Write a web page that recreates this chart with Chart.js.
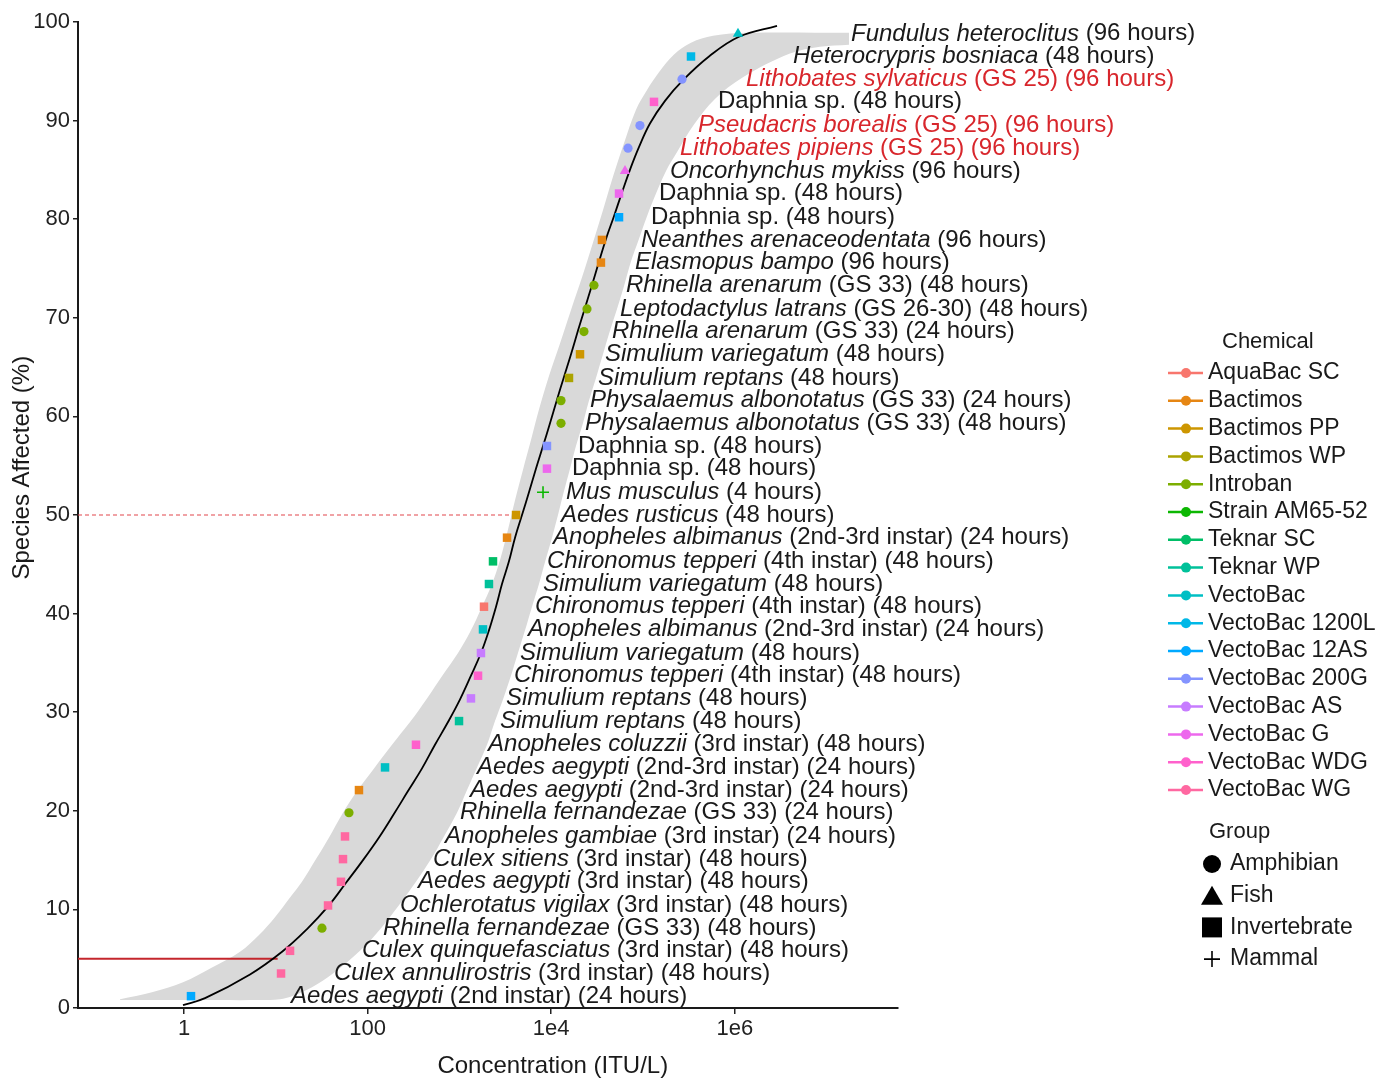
<!DOCTYPE html>
<html>
<head>
<meta charset="utf-8">
<title>Species sensitivity distribution</title>
<script src="https://cdn.jsdelivr.net/npm/chart.js@4/dist/chart.umd.min.js"></script>
<style>
  html, body { margin: 0; padding: 0; background: #fff; }
  canvas { display: block; }
</style>
</head>
<body>
<canvas id="ssdChart" width="1383" height="1078"></canvas>
<script>
// ---- data (ordered from lowest to highest species affected) ----
const speciesName = [
  'Aedes aegypti', 'Culex annulirostris', 'Culex quinquefasciatus', 'Rhinella fernandezae',
  'Ochlerotatus vigilax', 'Aedes aegypti', 'Culex sitiens', 'Anopheles gambiae',
  'Rhinella fernandezae', 'Aedes aegypti', 'Aedes aegypti', 'Anopheles coluzzii',
  'Simulium reptans', 'Simulium reptans', 'Chironomus tepperi', 'Simulium variegatum',
  'Anopheles albimanus', 'Chironomus tepperi', 'Simulium variegatum', 'Chironomus tepperi',
  'Anopheles albimanus', 'Aedes rusticus', 'Mus musculus', 'Daphnia sp.',
  'Daphnia sp.', 'Physalaemus albonotatus', 'Physalaemus albonotatus', 'Simulium reptans',
  'Simulium variegatum', 'Rhinella arenarum', 'Leptodactylus latrans', 'Rhinella arenarum',
  'Elasmopus bampo', 'Neanthes arenaceodentata', 'Daphnia sp.', 'Daphnia sp.',
  'Oncorhynchus mykiss', 'Lithobates pipiens', 'Pseudacris borealis', 'Daphnia sp.',
  'Lithobates sylvaticus', 'Heterocrypris bosniaca', 'Fundulus heteroclitus'
];
const testDetail = [
  '(2nd instar) (24 hours)', '(3rd instar) (48 hours)', '(3rd instar) (48 hours)', '(GS 33) (48 hours)',
  '(3rd instar) (48 hours)', '(3rd instar) (48 hours)', '(3rd instar) (48 hours)', '(3rd instar) (24 hours)',
  '(GS 33) (24 hours)', '(2nd-3rd instar) (24 hours)', '(2nd-3rd instar) (24 hours)', '(3rd instar) (48 hours)',
  '(48 hours)', '(48 hours)', '(4th instar) (48 hours)', '(48 hours)',
  '(2nd-3rd instar) (24 hours)', '(4th instar) (48 hours)', '(48 hours)', '(4th instar) (48 hours)',
  '(2nd-3rd instar) (24 hours)', '(48 hours)', '(4 hours)', '(48 hours)',
  '(48 hours)', '(GS 33) (48 hours)', '(GS 33) (24 hours)', '(48 hours)',
  '(48 hours)', '(GS 33) (24 hours)', '(GS 26-30) (48 hours)', '(GS 33) (48 hours)',
  '(96 hours)', '(96 hours)', '(48 hours)', '(48 hours)',
  '(96 hours)', '(GS 25) (96 hours)', '(GS 25) (96 hours)', '(48 hours)',
  '(GS 25) (96 hours)', '(48 hours)', '(96 hours)'
];
const chemical = [
  'VectoBac 12AS', 'VectoBac WG', 'VectoBac WG', 'Introban',
  'VectoBac WG', 'VectoBac WG', 'VectoBac WG', 'VectoBac WG',
  'Introban', 'Bactimos', 'VectoBac', 'VectoBac WDG',
  'Teknar WP', 'VectoBac AS', 'VectoBac WDG', 'VectoBac AS',
  'VectoBac', 'AquaBac SC', 'Teknar WP', 'Teknar SC',
  'Bactimos', 'Bactimos PP', 'Strain AM65-52', 'VectoBac G',
  'VectoBac 200G', 'Introban', 'Introban', 'Bactimos WP',
  'Bactimos PP', 'Introban', 'Introban', 'Introban',
  'Bactimos', 'Bactimos', 'VectoBac 12AS', 'VectoBac G',
  'VectoBac G', 'VectoBac 200G', 'VectoBac 200G', 'VectoBac WDG',
  'VectoBac 200G', 'VectoBac 1200L', 'VectoBac'
];
const group = [
  'Invertebrate', 'Invertebrate', 'Invertebrate', 'Amphibian',
  'Invertebrate', 'Invertebrate', 'Invertebrate', 'Invertebrate',
  'Amphibian', 'Invertebrate', 'Invertebrate', 'Invertebrate',
  'Invertebrate', 'Invertebrate', 'Invertebrate', 'Invertebrate',
  'Invertebrate', 'Invertebrate', 'Invertebrate', 'Invertebrate',
  'Invertebrate', 'Invertebrate', 'Mammal', 'Invertebrate',
  'Invertebrate', 'Amphibian', 'Amphibian', 'Invertebrate',
  'Invertebrate', 'Amphibian', 'Amphibian', 'Amphibian',
  'Invertebrate', 'Invertebrate', 'Invertebrate', 'Invertebrate',
  'Fish', 'Amphibian', 'Amphibian', 'Invertebrate',
  'Amphibian', 'Invertebrate', 'Fish'
];
// log10 of concentration (ITU/L)
const log10Conc = [
  0.076, 1.057, 1.155, 1.503, 1.569, 1.710, 1.732, 1.754, 1.797, 1.906,
  2.190, 2.527, 2.996, 3.126, 3.203, 3.235, 3.257, 3.268, 3.322, 3.366,
  3.519, 3.617, 3.911, 3.954, 3.954, 4.107, 4.107, 4.194, 4.314, 4.357,
  4.390, 4.466, 4.542, 4.553, 4.739, 4.739, 4.804, 4.837, 4.967, 5.120,
  5.425, 5.523, 6.035
];
const affected = [
  1.2, 3.5, 5.8, 8.1, 10.4, 12.8, 15.1, 17.4, 19.8, 22.1,
  24.4, 26.7, 29.1, 31.4, 33.7, 36.0, 38.4, 40.7, 43.0, 45.3,
  47.7, 50.0, 52.3, 54.7, 57.0, 59.3, 61.6, 63.9, 66.3, 68.6,
  70.9, 73.3, 75.6, 77.9, 80.2, 82.6, 84.9, 87.2, 89.5, 91.9,
  94.2, 96.5, 98.8
];
// where each text label starts (log10 concentration)
const labelLog10 = [
  1.166, 1.634, 1.939, 2.168, 2.353, 2.549, 2.712, 2.843, 3.007, 3.115,
  3.192, 3.312, 3.442, 3.508, 3.595, 3.660, 3.747, 3.824, 3.911, 3.954,
  4.020, 4.107, 4.161, 4.227, 4.292, 4.368, 4.423, 4.510, 4.586, 4.662,
  4.749, 4.815, 4.913, 4.978, 5.087, 5.174, 5.294, 5.403, 5.599, 5.817,
  6.122, 6.634, 7.266
];
const redSpecies = ['Lithobates sylvaticus', 'Pseudacris borealis', 'Lithobates pipiens'];

// fitted distribution (log10 conc, % affected)
const curveLog10 = [-0.011, 0.229, 0.719, 1.068, 1.340, 1.569, 1.765, 1.950, 2.124, 2.288,
  2.440, 2.593, 2.734, 2.876, 3.007, 3.126, 3.235, 3.322, 3.399, 3.464,
  3.540, 3.606, 3.682, 3.758, 3.834, 3.911, 3.987, 4.063, 4.139, 4.216,
  4.292, 4.368, 4.444, 4.521, 4.597, 4.684, 4.771, 4.858, 4.956, 5.076,
  5.240, 5.436, 5.719, 6.046, 6.460];
const curvePct = [0.3, 1.0, 3.4, 5.7, 8.0, 10.3, 12.7, 15.0, 17.3, 19.7,
  22.0, 24.3, 26.7, 29.0, 31.3, 33.7, 36.0, 38.3, 40.7, 43.0,
  45.3, 47.7, 50.0, 52.3, 54.7, 57.0, 59.3, 61.7, 64.0, 66.3,
  68.7, 71.0, 73.3, 75.7, 78.0, 80.3, 82.7, 85.0, 87.3, 89.7,
  92.0, 94.1, 96.5, 98.5, 99.6];

// confidence band: upper bound (left edge) and lower bound (right edge)
const bandUpperLog10 = [-0.697, -0.349, -0.011, 0.305, 0.610, 0.817, 0.991, 1.155, 1.285, 1.438,
  1.580, 1.732, 1.885, 2.070, 2.266, 2.462, 2.647, 2.821, 2.985, 3.126,
  3.246, 3.355, 3.442, 3.529, 3.606, 3.693, 3.780, 3.867, 3.976, 4.096,
  4.216, 4.336, 4.455, 4.564, 4.673, 4.793, 4.924, 5.044, 5.174, 5.338,
  5.523, 5.763, 6.144, 7.244];
const bandUpperPct = [0.9, 1.6, 2.6, 4.1, 5.7, 7.4, 9.2, 11.2, 12.8, 15.1,
  17.3, 19.8, 22.0, 24.3, 26.7, 29.0, 31.4, 33.8, 36.0, 38.3,
  40.7, 43.0, 45.4, 48.5, 51.5, 54.6, 57.6, 60.7, 64.1, 67.4,
  70.8, 74.1, 77.6, 80.9, 84.3, 87.7, 91.1, 93.1, 94.9, 96.7,
  97.9, 98.6, 98.9, 98.9];
const bandLowerLog10 = [-0.697, 0.174, 0.828, 1.046, 1.176, 1.394, 1.623, 1.917, 2.146, 2.331,
  2.527, 2.691, 2.832, 2.974, 3.083, 3.192, 3.301, 3.388, 3.475, 3.562,
  3.638, 3.715, 3.791, 3.867, 3.932, 4.009, 4.074, 4.139, 4.205, 4.270,
  4.346, 4.412, 4.488, 4.564, 4.641, 4.717, 4.793, 4.869, 4.956, 5.044,
  5.142, 5.251, 5.370, 5.556, 5.784, 6.089, 6.601, 6.928, 7.244];
const bandLowerPct = [0.8, 0.8, 0.8, 0.9, 1.2, 2.1, 3.5, 5.8, 8.1, 10.3,
  12.8, 15.1, 17.4, 19.8, 22.1, 24.4, 26.7, 29.1, 31.3, 33.7,
  36.0, 38.3, 40.7, 43.0, 45.2, 47.7, 50.0, 52.4, 54.7, 57.0,
  59.3, 61.6, 63.9, 66.3, 68.7, 70.9, 73.2, 75.7, 78.0, 80.3,
  82.6, 84.9, 86.8, 89.6, 92.2, 94.4, 96.8, 97.5, 97.7];

// hazard concentrations (log10)
const hc5Log10 = 1.02;
const hc50Log10 = 3.63;

const xTickValues = [1, 100, 1e4, 1e6];
const xTickLabels = ['1', '100', '1e4', '1e6'];
const xMin = 0.07, xMax = 6e7;

const chemicals = ['AquaBac SC', 'Bactimos', 'Bactimos PP', 'Bactimos WP', 'Introban', 'Strain AM65-52',
  'Teknar SC', 'Teknar WP', 'VectoBac', 'VectoBac 1200L', 'VectoBac 12AS', 'VectoBac 200G',
  'VectoBac AS', 'VectoBac G', 'VectoBac WDG', 'VectoBac WG'];
const chemicalColors = ['#F8766D', '#E68613', '#CD9600', '#ABA300', '#7CAE00', '#0CB702',
  '#00BE67', '#00C19A', '#00BFC4', '#00B8E7', '#00A9FF', '#8494FF',
  '#C77CFF', '#ED68ED', '#FF61CC', '#FF68A1'];
const groups = ['Amphibian', 'Fish', 'Invertebrate', 'Mammal'];

// ---- styling ----
const FONT = '"Liberation Sans", Arial, Helvetica, sans-serif';
const TEXT = '#1a1a1a';
const RED = '#d8262c';
const shapeOf = { Amphibian: 'circle', Fish: 'triangle', Invertebrate: 'rect', Mammal: 'cross' };
const radiusOf = { Amphibian: 4.6, Fish: 6, Invertebrate: 6, Mammal: 6 };

Chart.defaults.font.family = FONT;

const pow10 = v => Math.pow(10, v);
const toXY = (xs, ys) => xs.map((v, i) => ({ x: pow10(v), y: ys[i] }));
const colorOf = name => chemicalColors[chemicals.indexOf(name)];

// species labels, italic binomial + plain test details
const labelPlugin = {
  id: 'speciesLabels',
  afterDatasetsDraw(chart) {
    const { ctx } = chart;
    const xs = chart.scales.x, ys = chart.scales.y;
    const italic = `italic 24px ${FONT}`, plain = `24px ${FONT}`;
    ctx.save();
    ctx.textBaseline = 'middle';
    speciesName.forEach((name, i) => {
      const upright = name.endsWith(' sp.');
      const first = upright ? name + ' ' + testDetail[i] : name;
      const rest = upright ? '' : ' ' + testDetail[i];
      const px = xs.getPixelForValue(pow10(labelLog10[i]));
      const py = ys.getPixelForValue(affected[i]);
      ctx.fillStyle = redSpecies.includes(name) ? RED : TEXT;
      ctx.font = upright ? plain : italic;
      ctx.fillText(first, px, py);
      const w1 = ctx.measureText(first).width;
      ctx.font = plain;
      ctx.fillText(rest, px + w1, py);
    });
    ctx.restore();
  }
};

const titlePlugin = {
  id: 'axisTitles',
  afterDraw(chart) {
    const { ctx, chartArea: a } = chart;
    ctx.save();
    ctx.fillStyle = TEXT;
    ctx.font = `24px ${FONT}`;
    ctx.textAlign = 'center';
    ctx.textBaseline = 'middle';
    ctx.fillText('Concentration (ITU/L)', a.left + (a.right - a.left) * 0.579, chart.height - 12);
    ctx.translate(22, a.top + (a.bottom - a.top) * 0.452);
    ctx.rotate(-Math.PI / 2);
    ctx.fillText('Species Affected (%)', 0, 0);
    ctx.restore();
  }
};

const legendPlugin = {
  id: 'sideLegend',
  afterDraw(chart) {
    const { ctx } = chart;
    const x0 = chart.chartArea.right + 270;
    ctx.save();
    ctx.textBaseline = 'middle';
    ctx.fillStyle = TEXT;
    ctx.font = `22px ${FONT}`;
    ctx.fillText('Chemical', x0 + 54, 342);
    ctx.font = `23px ${FONT}`;
    chemicals.forEach((name, i) => {
      const yy = 373 + i * 27.8;
      ctx.strokeStyle = chemicalColors[i];
      ctx.lineWidth = 2.5;
      ctx.beginPath(); ctx.moveTo(x0, yy); ctx.lineTo(x0 + 35, yy); ctx.stroke();
      ctx.fillStyle = chemicalColors[i];
      ctx.beginPath(); ctx.arc(x0 + 18, yy, 5, 0, Math.PI * 2); ctx.fill();
      ctx.fillStyle = TEXT;
      ctx.fillText(name, x0 + 40, yy);
    });
    ctx.font = `22px ${FONT}`;
    ctx.fillText('Group', x0 + 41, 832);
    ctx.font = `23px ${FONT}`;
    groups.forEach((name, i) => {
      const yy = 864 + i * 31.7, cx = x0 + 44;
      ctx.fillStyle = '#000';
      ctx.strokeStyle = '#000';
      ctx.beginPath();
      if (name === 'Amphibian') { ctx.arc(cx, yy, 9, 0, Math.PI * 2); ctx.fill(); }
      else if (name === 'Fish') { ctx.moveTo(cx, yy - 10); ctx.lineTo(cx + 11, yy + 9); ctx.lineTo(cx - 11, yy + 9); ctx.closePath(); ctx.fill(); }
      else if (name === 'Invertebrate') { ctx.fillRect(cx - 10, yy - 10, 20, 20); }
      else { ctx.lineWidth = 1.6; ctx.moveTo(cx - 8, yy); ctx.lineTo(cx + 8, yy); ctx.moveTo(cx, yy - 8); ctx.lineTo(cx, yy + 8); ctx.stroke(); }
      ctx.fillStyle = TEXT;
      ctx.fillText(name, x0 + 62, yy);
    });
    ctx.restore();
  }
};

const ctx = document.getElementById('ssdChart').getContext('2d');
new Chart(ctx, {
  type: 'line',
  data: {
    datasets: [
      {
        label: 'band upper',
        data: toXY(bandUpperLog10, bandUpperPct),
        borderWidth: 0, pointRadius: 0, fill: false,
        tension: 0.35, order: 10
      },
      {
        label: 'band lower',
        data: toXY(bandLowerLog10, bandLowerPct),
        borderWidth: 0, pointRadius: 0, fill: '-1',
        backgroundColor: '#d9d9d9',
        tension: 0.35, order: 9
      },
      {
        label: 'HC5',
        data: [{ x: xMin, y: 5 }, { x: pow10(hc5Log10), y: 5 }],
        borderColor: '#c4262c', borderWidth: 2, pointRadius: 0, order: 4
      },
      {
        label: 'HC50',
        data: [{ x: xMin, y: 50 }, { x: pow10(hc50Log10), y: 50 }],
        borderColor: '#e2474c', borderWidth: 1.2, borderDash: [4, 3], pointRadius: 0, order: 4
      },
      {
        label: 'fit',
        data: toXY(curveLog10, curvePct),
        borderColor: '#000', borderWidth: 1.8, pointRadius: 0,
        tension: 0.4, order: 3
      },
      {
        label: 'species',
        data: toXY(log10Conc, affected),
        showLine: false,
        pointStyle: group.map(g => shapeOf[g]),
        pointRadius: group.map(g => radiusOf[g]),
        pointBackgroundColor: chemical.map(colorOf),
        pointBorderColor: chemical.map(colorOf),
        pointBorderWidth: group.map(g => g === 'Mammal' ? 1.6 : 0),
        order: 1
      }
    ]
  },
  options: {
    responsive: false,
    animation: false,
    layout: { padding: { top: 22, right: 485, bottom: 0, left: 0 } },
    plugins: {
      legend: { display: false },
      tooltip: { enabled: false }
    },
    scales: {
      x: {
        type: 'logarithmic',
        min: xMin,
        max: xMax,
        afterBuildTicks: s => { s.ticks = xTickValues.map(v => ({ value: v })); },
        afterFit: s => { s.height = 70; },
        ticks: {
          callback: (v, i) => xTickLabels[i],
          font: { size: 22 }, color: '#222', padding: 2,
          maxRotation: 0, autoSkip: false
        },
        grid: { display: true, drawOnChartArea: false, drawTicks: true, tickLength: 6, color: '#222', lineWidth: 1.5 },
        border: { display: true, color: '#1a1a1a', width: 2 }
      },
      y: {
        min: 0,
        max: 100,
        afterFit: s => { s.width = 78; },
        ticks: { stepSize: 10, font: { size: 22 }, color: '#222', padding: 3 },
        grid: { display: true, drawOnChartArea: false, drawTicks: true, tickLength: 5, color: '#222', lineWidth: 1.5 },
        border: { display: true, color: '#1a1a1a', width: 2 }
      }
    }
  },
  plugins: [labelPlugin, titlePlugin, legendPlugin]
});
</script>
</body>
</html>
